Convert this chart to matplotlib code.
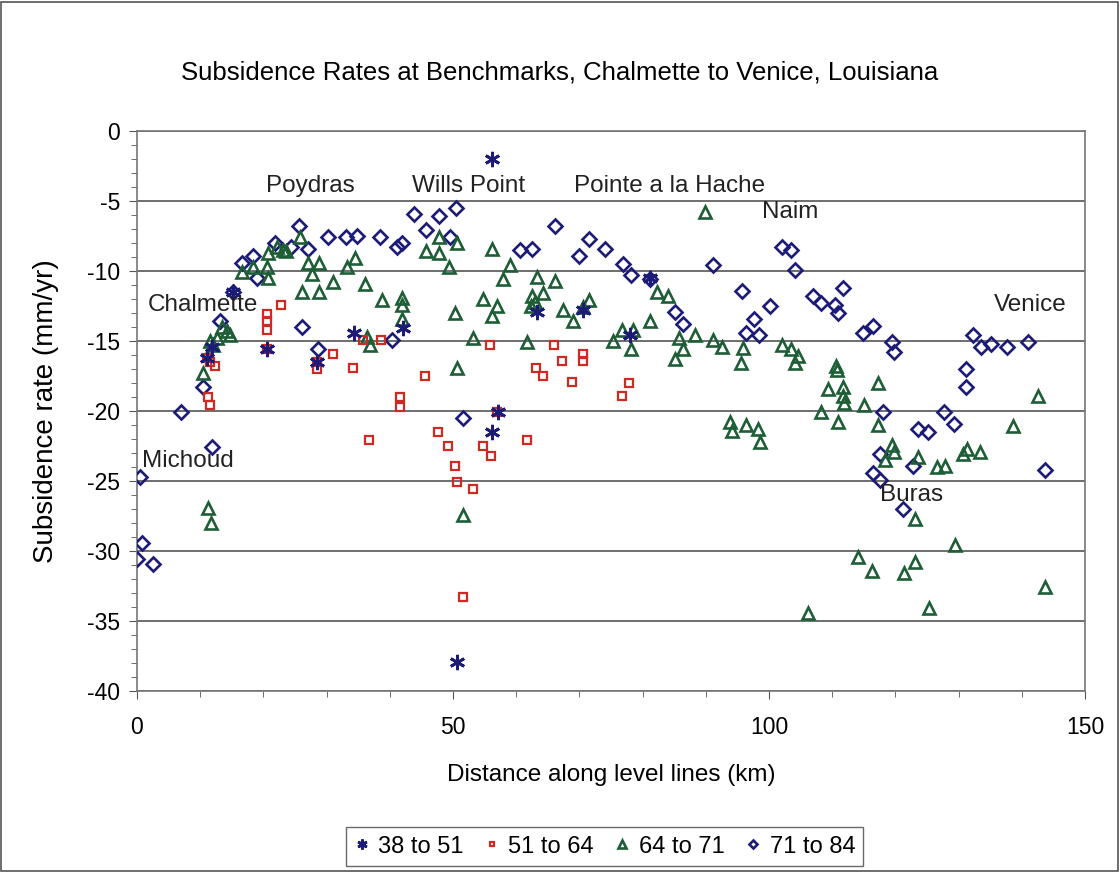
import numpy as np
import matplotlib
matplotlib.use("Agg")
import matplotlib.pyplot as plt
from matplotlib.ticker import MultipleLocator
from matplotlib.patches import Rectangle

plt.rcParams['font.family'] = ['Liberation Sans', 'DejaVu Sans']
plt.rcParams['axes.unicode_minus'] = False

# 38 to 51
x_3851 = [56.2, 15.2, 20.6, 28.5, 34.4, 42.1, 63.3, 57.1, 56.2, 50.6, 78.0, 81.2, 70.6, 11.0, 11.8]
y_3851 = [-2.0, -11.5, -15.6, -16.5, -14.4, -14.1, -12.9, -20.1, -21.5, -37.9, -14.6, -10.5, -12.8, -16.2, -15.4]

# 51 to 64
x_5164 = [22.8, 20.6, 20.6, 20.6, 12.3, 11.2, 11.6, 11.0, 28.5, 31.0, 34.2, 35.8, 38.6, 41.6, 41.6,
          45.6, 55.9, 66.0, 63.1, 64.2, 67.2, 70.6, 70.6, 68.8, 77.8, 76.7, 36.7, 47.6, 49.2, 54.7,
          56.0, 61.7, 50.3, 50.6, 53.2, 51.6, 57.0, 20.6, 28.5, 11.5]
y_5164 = [-12.4, -13.1, -13.6, -14.2, -16.8, -19.0, -19.6, -16.2, -17.0, -15.9, -16.9, -14.9, -14.9, -19.0, -19.7,
          -17.5, -15.3, -15.3, -16.9, -17.5, -16.4, -15.9, -16.4, -17.9, -18.0, -18.9, -22.1, -21.5, -22.5, -22.5,
          -23.2, -22.1, -23.9, -25.1, -25.6, -33.3, -20.1, -15.6, -16.5, -16.5]

# 64 to 71
x_6471 = [25.8, 22.1, 23.1, 23.6, 20.7, 16.6, 18.4, 20.5, 20.7, 27.1, 28.8, 27.7, 26.1, 28.8, 31.0,
          33.2, 34.5, 36.0, 36.4, 13.5, 14.2, 14.7, 12.7, 11.5, 12.0, 10.4, 11.2, 11.7,
          47.8, 50.6, 45.7, 47.8, 49.4, 38.8, 41.9, 41.9, 41.9, 50.3, 54.7, 56.9, 56.2, 56.2,
          59.0, 57.9, 63.3, 66.1, 62.5, 62.3, 64.2, 63.0, 67.4, 69.0, 70.6, 71.5, 36.9, 53.2,
          61.7, 50.6, 51.6,
          89.9, 82.3, 84.0, 81.2, 76.7, 78.5, 75.3, 78.2, 85.8, 86.4, 85.1, 88.3, 91.1, 92.6,
          95.9, 95.6, 102.0, 103.5, 104.6, 104.1, 109.3, 108.2, 93.8, 94.1, 96.4, 98.3, 98.6,
          106.2, 110.6, 110.8, 111.7, 111.7, 111.9, 117.2, 115.0, 142.6, 110.9, 117.2, 119.5,
          119.8, 118.4, 123.6, 126.6, 127.8, 130.7, 131.3, 133.4, 138.6, 123.1, 129.4, 114.1,
          116.3, 123.1, 121.4, 125.3, 143.7]
y_6471 = [-7.6, -8.3, -8.5, -8.6, -8.7, -10.1, -9.7, -9.7, -10.5, -9.4, -9.4, -10.2, -11.5, -11.5, -10.8,
          -9.7, -9.1, -10.9, -14.7, -14.0, -14.3, -14.6, -14.8, -15.0, -15.3, -17.3, -26.9, -28.0,
          -7.6, -8.0, -8.6, -8.7, -9.7, -12.1, -11.9, -12.4, -13.4, -13.0, -12.0, -12.5, -13.2, -8.4,
          -9.6, -10.6, -10.4, -10.7, -11.8, -12.5, -11.6, -12.2, -12.8, -13.6, -12.6, -12.1, -15.3, -14.8,
          -15.1, -16.9, -27.4,
          -5.8, -11.5, -11.8, -13.6, -14.2, -14.2, -15.0, -15.6, -14.8, -15.6, -16.3, -14.6, -14.9, -15.4,
          -15.5, -16.6, -15.3, -15.6, -16.1, -16.6, -18.4, -20.1, -20.8, -21.4, -21.0, -21.3, -22.2,
          -34.4, -16.8, -17.1, -18.3, -18.9, -19.4, -18.0, -19.6, -18.9, -20.8, -21.0, -22.4,
          -22.9, -23.5, -23.3, -24.0, -23.9, -23.1, -22.7, -22.9, -21.1, -27.7, -29.6, -30.4,
          -31.4, -30.8, -31.6, -34.1, -32.6]

# 71 to 84
x_7184 = [25.6, 30.2, 33.1, 34.8, 21.8, 24.4, 18.4, 16.6, 19.0, 27.1, 15.2, 13.1, 26.1, 10.4, 7.0,
          28.6, 11.9, 0.5, 0.8, 0.0, 2.5, 43.8, 47.8, 50.5, 45.7, 49.5, 38.4, 41.2, 42.0, 60.6,
          62.5, 66.1, 71.5, 69.9, 40.3, 51.6, 74.0, 76.9, 78.2, 81.2, 91.1, 102.0, 103.5, 104.1,
          95.7, 100.2, 97.6, 96.4, 98.4, 85.1, 86.4, 107.0, 108.2, 111.7, 110.4, 110.9, 114.9,
          116.5, 119.5, 119.8, 132.3, 133.5, 135.1, 137.7, 141.0, 131.2, 131.2, 118.0, 127.7,
          129.3, 123.6, 125.2, 117.6, 122.8, 116.5, 117.6, 121.2, 143.7]
y_7184 = [-6.8, -7.6, -7.6, -7.5, -8.0, -8.3, -8.9, -9.4, -10.5, -8.4, -11.5, -13.6, -14.0, -18.3, -20.1,
          -15.6, -22.6, -24.7, -29.4, -30.6, -30.9, -5.9, -6.1, -5.5, -7.1, -7.6, -7.6, -8.3, -8.0, -8.5,
          -8.4, -6.8, -7.7, -8.9, -14.9, -20.5, -8.4, -9.5, -10.3, -10.6, -9.6, -8.3, -8.5, -9.9,
          -11.4, -12.5, -13.4, -14.4, -14.6, -12.9, -13.8, -11.8, -12.3, -11.2, -12.4, -13.0, -14.4,
          -13.9, -15.1, -15.8, -14.6, -15.4, -15.2, -15.4, -15.1, -17.0, -18.3, -20.1, -20.1,
          -20.9, -21.3, -21.5, -23.1, -23.9, -24.4, -24.9, -27.0, -24.2]

places = ["Poydras", "Wills Point", "Pointe a la Hache", "Naim", "Chalmette", "Venice", "Michoud", "Buras"]
place_x = [27.5, 52.5, 84.3, 103.3, 10.4, 141.3, 8.1, 122.6]
place_y = [-3.9, -3.9, -3.9, -5.8, -12.4, -12.4, -23.6, -26.0]

navy = '#1c1c78'
red = '#cc2a22'
green = '#1e5e36'

fig = plt.figure(figsize=(11.2, 8.72), dpi=100)
ax = fig.add_axes([0.1223, 0.2076, 0.8465, 0.6422])

ax.plot(x_7184, y_7184, linestyle='none', marker='D', markersize=7, markerfacecolor='none',
        markeredgecolor=navy, markeredgewidth=1.9, label='71 to 84', zorder=3)
ax.plot(x_6471, y_6471, linestyle='none', marker='^', markersize=9, markerfacecolor='none',
        markeredgecolor=green, markeredgewidth=1.9, label='64 to 71', zorder=4)
ax.plot(x_5164, y_5164, linestyle='none', marker='s', markersize=5.5, markerfacecolor='none',
        markeredgecolor=red, markeredgewidth=1.6, label='51 to 64', zorder=5)
ax.plot(x_3851, y_3851, linestyle='none', marker=(6, 2, 0), markersize=11,
        markeredgecolor=navy, color=navy, markeredgewidth=2.0, label='38 to 51', zorder=6)

for name, px, py in zip(places, place_x, place_y):
    ax.text(px, py, name, ha='center', va='center', fontsize=17.5, color='#222222', zorder=7)

ax.set_xlim(0, 150)
ax.set_ylim(-40, 0)
ax.xaxis.set_major_locator(MultipleLocator(50))
ax.xaxis.set_minor_locator(MultipleLocator(10))
ax.yaxis.set_major_locator(MultipleLocator(5))
ax.yaxis.set_minor_locator(MultipleLocator(1))
ax.tick_params(axis='both', which='major', labelsize=16.5, length=6, color='#555555')
ax.tick_params(axis='x', which='major', pad=12)
ax.tick_params(axis='y', which='major', pad=6)
ax.tick_params(axis='both', which='minor', length=4, color='#555555')
ax.yaxis.grid(True, which='major', color='#555555', linewidth=1.2)
ax.set_axisbelow(True)
for s in ax.spines.values():
    s.set_color('#777777')
    s.set_linewidth(1.2)

ax.set_xlabel("Distance along level lines (km)", fontsize=17.5, labelpad=18)
ax.set_ylabel("Subsidence rate (mm/yr)", fontsize=20, labelpad=20)
fig.text(0.5, 0.917, "Subsidence Rates at Benchmarks, Chalmette to Venice, Louisiana",
         ha='center', va='center', fontsize=18.5)

handles, labels = ax.get_legend_handles_labels()
order = [3, 2, 1, 0]
leg = fig.legend([handles[i] for i in order], [labels[i] for i in order], loc='center',
                 bbox_to_anchor=(0.54, 0.029), ncol=4, fontsize=17, frameon=True, fancybox=False,
                 handlelength=0.6, handletextpad=0.4, columnspacing=0.9, markerscale=0.65,
                 borderpad=0.35)
leg.get_frame().set_edgecolor('#444444')
leg.get_frame().set_linewidth(1.0)

fig.patches.append(Rectangle((0.001, 0.001), 0.997, 0.997, transform=fig.transFigure,
                             fill=False, edgecolor='#555555', linewidth=1.2))

plt.savefig('out.png', dpi=100)
